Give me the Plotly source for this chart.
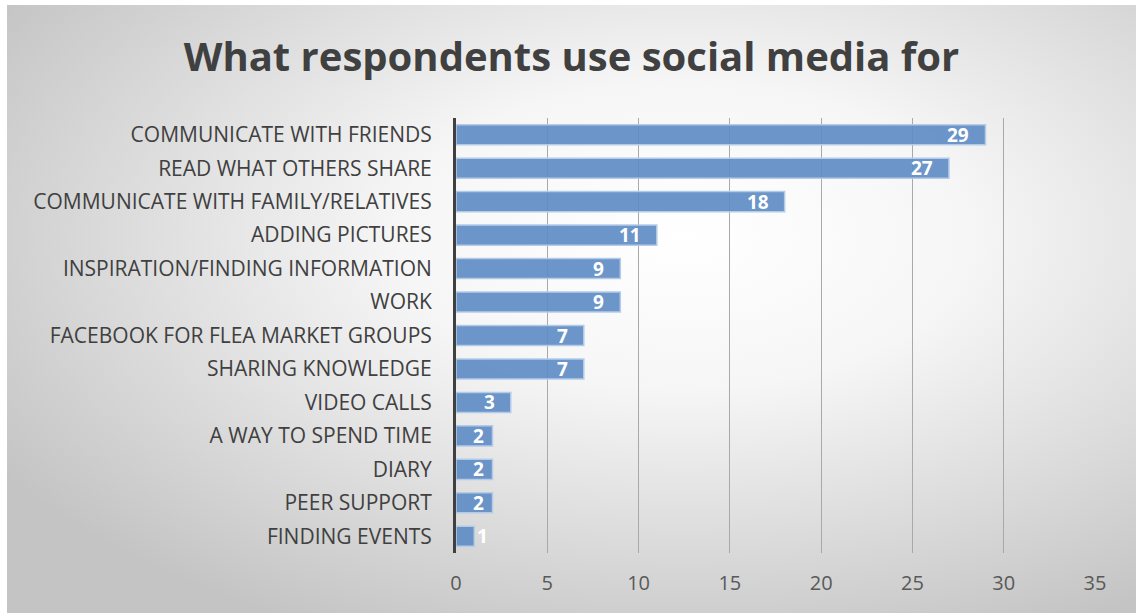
import base64
import plotly.graph_objects as go

# Survey answers, listed top to bottom as they appear on the chart
categories = [
    "COMMUNICATE WITH FRIENDS",
    "READ WHAT OTHERS SHARE",
    "COMMUNICATE WITH FAMILY/RELATIVES",
    "ADDING PICTURES",
    "INSPIRATION/FINDING INFORMATION",
    "WORK",
    "FACEBOOK FOR FLEA MARKET GROUPS",
    "SHARING KNOWLEDGE",
    "VIDEO CALLS",
    "A WAY TO SPEND TIME",
    "DIARY",
    "PEER SUPPORT",
    "FINDING EVENTS",
]
counts = [29, 27, 18, 11, 9, 9, 7, 7, 3, 2, 2, 2, 1]
x_ticks = [0, 5, 10, 15, 20, 25, 30, 35]

W, H = 1136, 613
L, R, T, B = 456, 41, 118, 60
plot_w = W - L - R
plot_h = H - T - B

# Soft radial backdrop for the chart area
svg = (
    '<svg xmlns="http://www.w3.org/2000/svg" width="1129" height="608" '
    'viewBox="0 0 1129 608" preserveAspectRatio="none">'
    '<defs><radialGradient id="g" cx="0.6" cy="0.38" r="0.72" '
    'gradientUnits="objectBoundingBox">'
    '<stop offset="0" stop-color="#ffffff"/>'
    '<stop offset="0.35" stop-color="#f6f6f6"/>'
    '<stop offset="1" stop-color="#c4c4c4"/>'
    '</radialGradient></defs>'
    '<rect x="0" y="0" width="1129" height="608" fill="url(#g)"/>'
    '</svg>'
)
bg_src = "data:image/svg+xml;base64," + base64.b64encode(svg.encode()).decode()

fig = go.Figure(
    go.Bar(
        x=counts,
        y=categories,
        orientation="h",
        width=0.6,
        marker=dict(color="rgba(95,140,196,0.92)",
                    line=dict(color="#b4cbe8", width=1.5)),
        hoverinfo="skip",
    )
)

# Value labels, white and bold, just inside the end of each bar;
# a bar too short to hold its label gets it just past its end instead
for cat, val in zip(categories, counts):
    fits = val >= 2
    fig.add_annotation(
        x=val, y=cat, xref="x", yref="y",
        text=str(val), showarrow=False,
        xanchor="right" if fits else "left", yanchor="middle",
        xshift=(-14 if val >= 3 else -7) if fits else 1,
        font=dict(family="Open Sans", size=19, color="white", weight="bold"),
    )

fig.add_layout_image(
    source=bg_src,
    xref="paper", yref="paper",
    x=(7 - L) / plot_w, y=1 + (T - 5) / plot_h,
    sizex=(W - 7) / plot_w, sizey=(H - 5) / plot_h,
    xanchor="left", yanchor="top",
    sizing="stretch", layer="below",
)

fig.update_layout(
    width=W, height=H,
    margin=dict(l=L, r=R, t=T, b=B),
    paper_bgcolor="white",
    plot_bgcolor="rgba(0,0,0,0)",
    showlegend=False,
    title=dict(
        text="What respondents use social media for",
        font=dict(family="Open Sans", size=40, color="#404040", weight="bold"),
        x=(7 + W) / 2 / W, xanchor="center",
        y=1 - 57 / H, yanchor="middle",
    ),
)

fig.update_xaxes(
    range=[0, 35],
    tickvals=x_ticks,
    ticktext=[str(v) for v in x_ticks],
    showgrid=True, gridcolor="#a9a9a9", gridwidth=1,
    zeroline=False, showline=False,
    tickfont=dict(family="Open Sans", size=20, color="#595959"),
    ticks="", ticklabelstandoff=16,
    fixedrange=True,
)
fig.update_yaxes(
    categoryorder="array",
    categoryarray=categories[::-1],
    showline=True, linecolor="#404040", linewidth=3,
    showgrid=False, zeroline=False,
    tickfont=dict(family="Open Sans", size=21, color="#404040"),
    ticks="", ticklabelstandoff=17,
    fixedrange=True,
)

fig.write_html("out.html")
